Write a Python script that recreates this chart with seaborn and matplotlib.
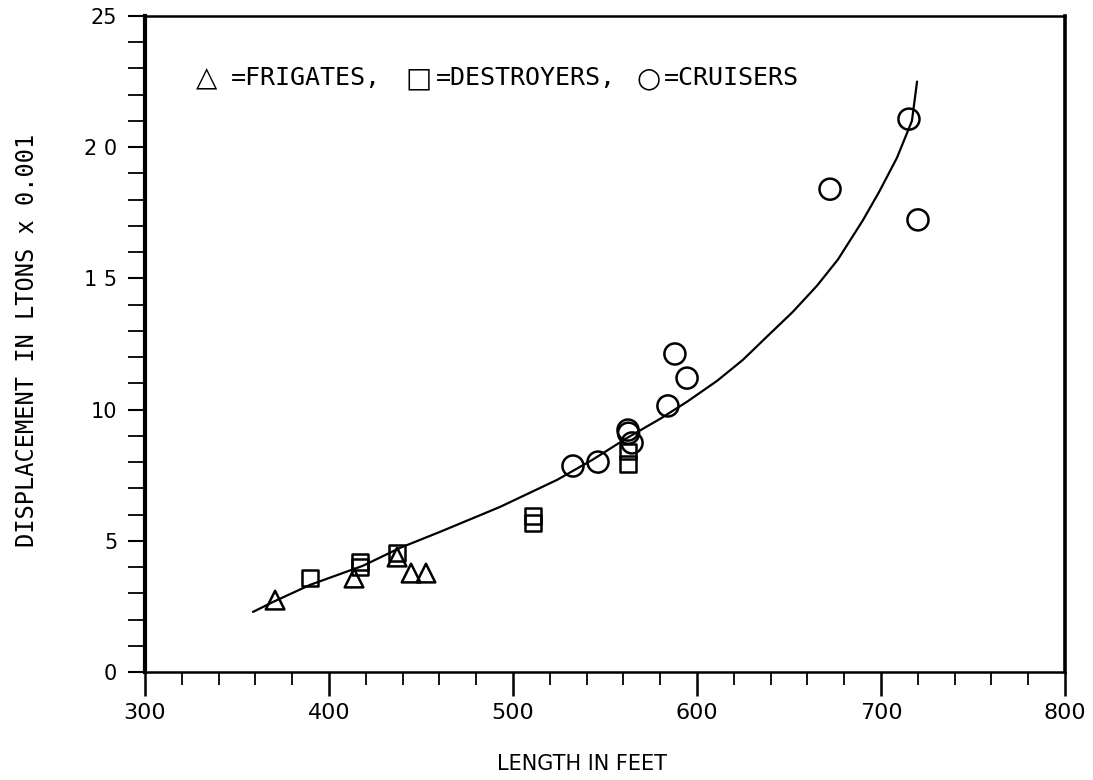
import matplotlib
matplotlib.use("Agg")
import matplotlib.pyplot as plt
import seaborn as sns
from matplotlib.ticker import MultipleLocator, FixedLocator

# ---- data ----
frig_len = [370.7, 413.6, 437.0, 444.6, 452.7]
frig_disp = [2.74, 3.58, 4.38, 3.77, 3.77]

dest_len = [389.7, 416.8, 416.8, 437.0, 510.9, 510.9, 562.5, 562.5]
dest_disp = [3.58, 4.19, 4.00, 4.53, 5.95, 5.68, 8.40, 7.92]

cru_len = [532.6, 546.2, 562.5, 562.8, 564.7, 584.2, 588.0, 594.6, 672.3, 715.2, 720.1]
cru_disp = [7.85, 8.00, 9.22, 9.10, 8.73, 10.14, 12.12, 11.20, 18.40, 21.07, 17.23]

curve_len = [358.7, 369.6, 389.7, 418.5, 438.6, 460.3, 492.9, 523.9, 543.0, 562.0,
             580.0, 594.6, 611.0, 625.0, 638.0, 652.0, 665.2, 676.6, 690.2, 699.0,
             708.7, 716.8, 719.6]
curve_disp = [2.29, 2.67, 3.32, 4.05, 4.73, 5.34, 6.29, 7.32, 8.08, 8.92,
              9.65, 10.30, 11.10, 11.90, 12.78, 13.72, 14.72, 15.72, 17.22, 18.30,
              19.60, 21.00, 22.50]

x_ticks = [300, 400, 500, 600, 700, 800]
x_labels = ["300", "400", "500", "600", "700", "800"]
y_ticks = [0, 5, 10, 15, 20, 25]
y_labels = ["0", "5", "10", "1 5", "2 0", "25"]

legend_symbols = ["\u25B3", "\u25A1", "\u25CB"]
legend_names = ["=FRIGATES,", "=DESTROYERS,", "=CRUISERS"]
xlabel = "LENGTH IN FEET"
ylabel = "DISPLACEMENT IN LTONS x 0.001"

# ---- plot ----
sns.set_theme(style="white")
plt.rcParams["font.family"] = ["DejaVu Sans"]
for k in ["text.color", "axes.labelcolor", "xtick.color", "ytick.color"]:
    plt.rcParams[k] = "black"

fig = plt.figure(figsize=(10.93, 7.80), dpi=100)
ax = fig.add_axes([145 / 1093, 1 - 672 / 780, 920 / 1093, 656 / 780])

sns.lineplot(x=curve_len, y=curve_disp, sort=False, color="black", lw=1.6, ax=ax)

ax.scatter(frig_len, frig_disp, marker="^", s=180, facecolors="none",
           edgecolors="black", linewidths=1.8, zorder=3)
ax.scatter(dest_len, dest_disp, marker="s", s=125, facecolors="none",
           edgecolors="black", linewidths=1.8, zorder=3)
ax.scatter(cru_len, cru_disp, marker="o", s=230, facecolors="none",
           edgecolors="black", linewidths=1.8, zorder=3)

ax.set_xlim(300, 800)
ax.set_ylim(0, 25)

ax.xaxis.set_major_locator(FixedLocator(x_ticks))
ax.set_xticklabels(x_labels)
ax.xaxis.set_minor_locator(MultipleLocator(20))
ax.yaxis.set_major_locator(FixedLocator(y_ticks))
ax.set_yticklabels(y_labels)
ax.yaxis.set_minor_locator(MultipleLocator(1))

ax.tick_params(axis="x", which="major", direction="out", length=17, width=1.8,
               labelsize=16, pad=5, bottom=True)
ax.tick_params(axis="x", which="minor", direction="out", length=9, width=1.3,
               bottom=True)
ax.tick_params(axis="y", which="major", direction="out", length=12, width=1.5,
               labelsize=15, pad=8, left=True)
ax.tick_params(axis="y", which="minor", direction="out", length=12, width=1.3,
               left=True)

for side, lw in [("left", 3.0), ("right", 2.6), ("top", 1.8), ("bottom", 1.8)]:
    ax.spines[side].set_visible(True)
    ax.spines[side].set_color("black")
    ax.spines[side].set_linewidth(lw)

ax.set_xlabel(xlabel, fontsize=15)
ax.set_ylabel(ylabel, fontsize=17, family="DejaVu Sans Mono")
ax.xaxis.set_label_coords(0.475, -0.125)
ax.yaxis.set_label_coords(-0.115, 0.506)

# legend text pieces, positioned in axes fraction
sym_x = [(196 - 145) / 920, (405 - 145) / 920, (636 - 145) / 920]
name_x = [(231 - 145) / 920, (436 - 145) / 920, (664 - 145) / 920]
for sx, nx, sym, name in zip(sym_x, name_x, legend_symbols, legend_names):
    ax.text(sx, 0.905, sym, transform=ax.transAxes, fontsize=20,
            ha="left", va="center")
    ax.text(nx, 0.905, name, transform=ax.transAxes, fontsize=18,
            ha="left", va="center", family="DejaVu Sans Mono")

ax.grid(False)
fig.savefig("out.png", dpi=100, facecolor="white")
